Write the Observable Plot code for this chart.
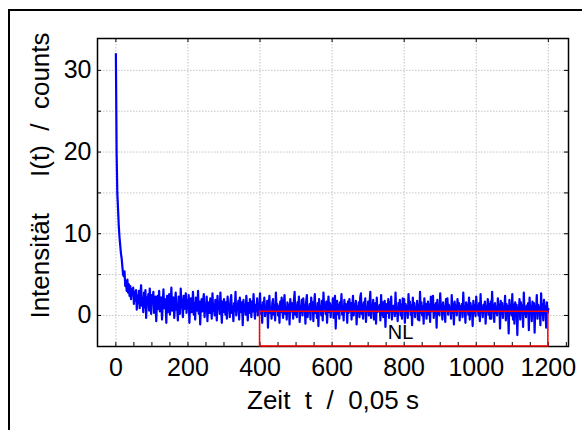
<!DOCTYPE html>
<html><head><meta charset="utf-8">
<script src="https://cdn.jsdelivr.net/npm/d3@7"></script>
<script src="https://cdn.jsdelivr.net/npm/@observablehq/plot@0.6"></script>
<style>
body{margin:0;background:#fff;}
#wrap{position:relative;width:582px;height:430px;overflow:hidden;background:#fff;}
#border{position:absolute;left:8px;top:9px;width:700px;height:600px;border-left:2px solid #000;border-top:2px solid #000;pointer-events:none;}
</style></head><body><div id="wrap"><div id="border"></div></div>
<script>
// sample spacing of the series below (time in units of 0.05 s)
const sampleStep = 2;
// intensity I(t) in counts, one value every 2 time units, t = 0 ... 1200 (20 values per row = 40 time units)
const intensity = [
  32, 20, 15, 13, 11, 9.6, 8.6, 7.6, 7.0, 6.0, 5.0, 4.8, 5.4, 3.6, 4.2, 3.0, 4.4, 2.8, 3.8, 2.4,
  3.6, 2.0, 3.2, 2.6, 3.4, 1.4, 2.9, 1.8, 3.1, 0.7, 2.4, 1.5, 3.0, 0.9, 2.6, 3.7, 1.2, 2.1, 0.4, 2.8,
  1.0, 3.1, -0.3, 2.2, 1.4, 2.6, 0.6, 3.3, 1.1, 0.2, 2.5, 1.7, 2.9, 0.3, 1.9, 2.3, -0.7, 1.6, 2.4, 0.8,
  3.0, 0.5, 1.8, 2.2, -0.5, 1.3, 3.2, 0.9, 2.0, 1.5, -0.9, 2.4, 0.4, 1.9, 2.6, 0.1, 1.2, 3.4, 0.6, 1.7,
  2.2, -0.3, 1.5, 2.8, 0.7, 1.1, -0.6, 2.3, 1.6, 0.2, 3.3, 1.0, 1.9, -0.2, 2.4, 0.8, 1.4, 2.7, 0.3, 1.8,
  0.9, 2.5, -0.9, 1.6, 2.1, 0.4, 1.2, 2.9, 0.1, 1.5, -0.5, 2.2, 1.3, 0.6, 3.0, 0.2, 1.7, -1.1, 1.4, 2.0,
  0.5, 1.8, 2.6, -0.2, 1.1, 0.7, 2.3, -0.7, 1.6, 1.0, 0.3, 2.1, 1.4, -0.4, 2.7, 0.6, 1.2, 0.0, 1.9, 1.3,
  -0.6, 2.4, 0.8, 1.5, 0.2, 2.8, 1.0, -0.9, 1.7, 0.4, 2.0, 1.2, 0.1, 1.6, -0.4, 2.3, 0.9, 1.4, -0.2, 1.8,
  2.5, 0.3, 1.1, -0.7, 1.5, 0.6, 2.9, 0.0, 1.3, 0.8, 1.8, -0.5, 2.2, 1.0, 0.4, 1.6, -1.2, 1.9, 0.7, 1.2,
  0.1, 2.4, 1.0, -0.6, 1.5, 0.3, 2.0, 1.1, -0.2, 1.7, 0.5, 2.6, 0.9, -0.4, 1.3, 0.6, 2.1, 0.0, 1.4, 0.8,
  2.7, 0.2, 1.2, -0.9, 1.6, 0.7, 2.2, -0.1, 1.0, 0.5, 1.8, -1.5, 1.3, 2.4, 0.3, 0.9, -0.4, 1.5, 2.0, 0.1,
  1.2, -0.6, 2.8, 0.6, 1.4, 0.0, 1.1, -0.9, 1.7, 0.4, 2.2, 0.8, -0.3, 1.5, 2.5, 0.2, 1.0, -0.5, 1.6, 0.7,
  1.3, -1.1, 2.0, 0.5, 1.5, 0.9, -0.4, 1.8, 2.9, 0.1, 1.2, -0.2, 1.6, 0.6, 2.3, -0.8, 1.1, 0.4, 1.9, 0.0,
  2.1, 0.7, 1.3, -1.0, 1.7, 2.5, -0.2, 1.0, 0.5, 1.4, -0.5, 2.2, 0.8, 1.6, -0.7, 1.2, 2.6, 0.3, 1.0, -0.3,
  1.5, -1.3, 2.0, 0.6, 1.1, 0.0, 1.8, -0.6, 2.8, 0.9, 1.3, 0.2, 1.7, -0.9, 1.0, 2.3, 0.4, 1.5, -0.2, 1.2,
  0.6, 2.1, -0.3, 1.4, 2.4, -1.6, 1.0, 1.8, 0.2, 1.3, -0.4, 1.6, 0.8, 2.6, 0.1, 1.1, -0.6, 1.9, 0.5, 1.4,
  1.2, -0.9, 1.7, 0.3, 2.0, 0.7, 1.5, -0.5, 1.0, 2.4, 0.0, 1.3, 0.6, 1.8, -1.1, 1.1, 0.4, 1.6, -0.2, 2.2,
  2.7, 0.2, 1.3, -0.4, 1.6, 0.8, 2.1, -0.8, 1.0, 0.5, 1.7, 0.0, 1.4, 2.9, -0.3, 1.2, 0.6, 1.9, -0.5, 1.1,
  1.5, -1.0, 2.2, 0.4, 1.0, 0.7, 1.3, -0.6, 2.5, 0.1, 1.6, -0.2, 1.2, 1.8, -1.4, 0.9, 1.4, 0.3, 2.0, -0.3,
  1.6, 0.5, 2.3, -0.5, 1.1, 0.8, 1.2, -0.1, 2.8, 0.3, 1.0, -0.7, 1.5, 0.6, 1.9, 0.0, 1.3, -0.4, 2.1, 0.7,
  2.0, -0.9, 1.4, 0.4, 1.1, -0.3, 2.6, 0.8, 1.7, 0.1, 1.2, -1.2, 2.2, 0.5, 1.5, -0.2, 1.0, 0.6, 1.8, -0.5,
  1.3, -0.6, 2.9, 0.3, 1.6, 0.0, 1.1, -1.0, 2.1, 0.7, 1.4, -0.4, 1.0, 1.7, 0.1, 1.3, -0.8, 2.3, 0.5, 1.2,
  2.4, -0.3, 1.2, 0.6, 1.5, -1.5, 1.9, 0.2, 1.0, 0.0, 2.7, 0.8, 1.3, -0.5, 1.6, 0.4, 1.1, -0.8, 2.0, 0.6,
  2.1, 0.1, 1.3, 0.7, 1.0, -0.4, 2.5, 0.3, 1.4, -1.1, 1.7, 0.5, 1.2, 0.0, 2.0, 0.9, 1.5, -0.6, 1.1, 0.4,
  1.4, -0.2, 2.8, 0.5, 1.0, -0.9, 1.6, 0.7, 1.3, 0.1, 2.2, -0.5, 1.5, 0.8, 1.1, -1.3, 1.8, 0.3, 1.2, -0.1,
  2.3, 0.6, 1.2, 0.0, 1.5, -0.7, 2.6, 0.4, 1.0, -0.2, 1.3, 0.7, 1.7, -1.0, 1.1, 0.5, 2.0, 0.1, 1.4, -0.4,
  1.7, -0.4, 2.9, 0.6, 1.2, -0.8, 1.5, 0.3, 1.0, 0.0, 2.1, 0.8, 1.3, -1.6, 1.8, 0.2, 1.5, -0.3, 1.1, 0.6,
  2.4, -0.6, 1.4, 0.5, 1.1, -2.2, 1.9, 0.3, 1.2, 0.0, 2.6, -0.5, 1.3, -1.0, 1.6, 0.7, 1.3, -2.4, 1.0, 0.4,
  2.0, -0.5, 1.6, 0.6, 1.2, -1.4, 2.8, 0.2, 1.0, -0.2, 1.2, 0.5, 1.5, -1.8, 2.2, 0.3, 1.1, -0.7, 1.7, 0.4,
  1.5, -2.1, 1.2, 0.5, 2.5, -0.4, 1.3, 0.7, 1.0, -1.2, 2.7, 0.1, 1.4, -0.6, 1.9, 0.6, 1.1, -1.5, 1.6, 0.3,
  0.8
];
// axis ticks and labels
const xTickValues = [0, 200, 400, 600, 800, 1000, 1200];
const xMinorTicks = [0, 50, 100, 150, 200, 250, 300, 350, 400, 450, 500, 550, 600, 650, 700, 750, 800, 850, 900, 950, 1000, 1050, 1100, 1150, 1200, 1250];
const yTickValues = [0, 10, 20, 30];
const yGridValues = [0, 5, 10, 15, 20, 25, 30];
const xDomain = [-51, 1256];
const yDomain = [-3.8, 33.9];
const xTitle = "Zeit\u00a0\u00a0t\u00a0\u00a0/\u00a0\u00a00,05 s";
const yTitle = "Intensit\u00e4t\u00a0\u00a0\u00a0\u00a0\u00a0I(t)\u00a0\u00a0/\u00a0\u00a0counts";
// noise-level region
const nlStart = [400];
const nlEnd = [1200];
const nlLevel = [0.45];
const nlLabel = [{text: "NL", t: 790, v: -2.1}];

const data = intensity.map((v, i) => ({t: i * sampleStep, v}));
const nlRegion = nlStart.map((s, i) => ({x1: s, x2: nlEnd[i], y2: nlLevel[i]}));

const W = 582, H = 430;
const mL = 97, mR = 14, mT = 38, mB = 84;
const fw = W - mL - mR, fh = H - mT - mB;
const tickLen = 4;
const font = "'Liberation Sans', Arial, Helvetica, sans-serif";

const chart = Plot.plot({
  width: W, height: H,
  marginLeft: mL, marginRight: mR, marginTop: mT, marginBottom: mB,
  x: {domain: xDomain, axis: null},
  y: {domain: yDomain, axis: null},
  style: {fontFamily: font, color: "#000", background: "#fff", overflow: "visible"},
  marks: [
    Plot.ruleX(xTickValues, {x: d => d, stroke: "#c4c4c4", strokeWidth: 1, strokeDasharray: "1.5,1.5"}),
    Plot.ruleY(yGridValues, {y: d => d, stroke: "#c4c4c4", strokeWidth: 1, strokeDasharray: "1.5,1.5"}),
    Plot.line(data, {x: "t", y: "v", stroke: "#0000ff", strokeWidth: 2.2}),
    Plot.frame({stroke: "#000", strokeWidth: 1.5}),
    Plot.tickX(xMinorTicks, {x: d => d, insetTop: fh - tickLen, stroke: "#000"}),
    Plot.tickX(xTickValues, {x: d => d, insetBottom: fh - tickLen, stroke: "#000"}),
    Plot.tickY(yGridValues, {y: d => d, insetRight: fw - tickLen, stroke: "#000"}),
    Plot.tickY(yGridValues, {y: d => d, insetLeft: fw - tickLen, stroke: "#000"}),
    Plot.rect(nlRegion, {x1: "x1", x2: "x2", y1: () => yDomain[0], y2: "y2", fill: "none", stroke: "#ff0000", strokeWidth: 1.5}),
    Plot.text(nlLabel, {x: "t", y: "v", text: "text", fontSize: 20, fill: "#000"}),
    Plot.axisX(xTickValues, {tickSize: 0, tickPadding: 12, fontSize: 25, fill: "#000", tickFormat: d => String(d)}),
    Plot.axisY(yTickValues, {tickSize: 0, tickPadding: 6, fontSize: 25, fill: "#000", tickFormat: d => String(d)}),
    Plot.text([xTitle], {frameAnchor: "bottom", dy: 62, fontSize: 26, fill: "#000"}),
    Plot.text([yTitle], {frameAnchor: "left", textAnchor: "middle", dx: -57, dy: -17, rotate: -90, fontSize: 26, fill: "#000"})
  ]
});
document.getElementById("wrap").prepend(chart);
</script>
</body></html>
